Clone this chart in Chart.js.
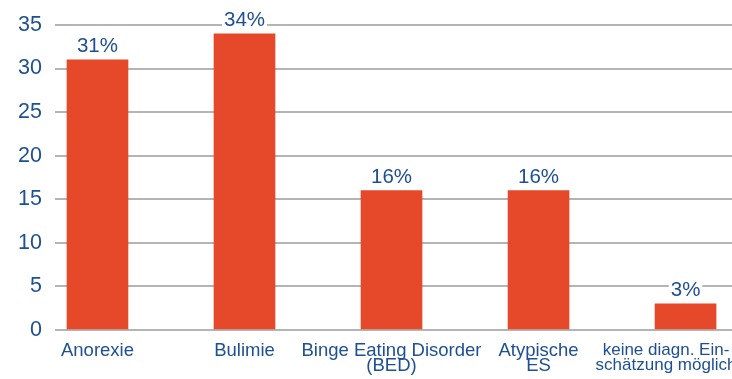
<!DOCTYPE html>
<html>
<head>
<meta charset="utf-8">
<script src="https://cdn.jsdelivr.net/npm/chart.js@4"></script>
<style>
  html, body { margin: 0; padding: 0; background: #ffffff; }
  #wrap { width: 732px; height: 379px; position: relative; }
</style>
</head>
<body>
<div id="wrap"><canvas id="chart"></canvas></div>
<script>
// Diagnosen (Anteil in %)
const categories = [
  ["Anorexie"],
  ["Bulimie"],
  ["Binge Eating Disorder", "(BED)"],
  ["Atypische", "ES"],
  ["keine diagn. Ein-", "schätzung möglich"]
];
const values = [31, 34, 16, 16, 3];
const yTicks = [0, 5, 10, 15, 20, 25, 30, 35];

const BLUE = "#1d4f93";
const BAR = "#e5492a";
const FONT = "'Liberation Sans', Arial, sans-serif";

// Prozentwerte über den Balken, mit weißem Hintergrund über den Gitterlinien
const valueLabels = {
  id: "valueLabels",
  afterDatasetsDraw(chart) {
    const ctx = chart.ctx;
    const meta = chart.getDatasetMeta(0);
    ctx.save();
    ctx.font = "20.5px " + FONT;
    ctx.textAlign = "center";
    ctx.textBaseline = "alphabetic";
    meta.data.forEach((bar, i) => {
      const txt = values[i] + "%";
      const w = ctx.measureText(txt).width;
      const baseY = bar.y - 8;
      ctx.fillStyle = "#ffffff";
      ctx.fillRect(bar.x - w / 2 - 2, baseY - 17, w + 4, 20);
      ctx.fillStyle = BLUE;
      ctx.fillText(txt, bar.x, baseY);
    });
    ctx.restore();
  }
};

const last = categories.length - 1;

new Chart(document.getElementById("chart"), {
  type: "bar",
  data: {
    datasets: [{
      data: values.map((v, i) => ({ x: i, y: v })),
      backgroundColor: BAR,
      borderWidth: 0,
      barThickness: 61
    }]
  },
  options: {
    responsive: true,
    maintainAspectRatio: false,
    animation: false,
    layout: { padding: { top: 25, right: 0, bottom: 0, left: 0 } },
    plugins: { legend: { display: false }, tooltip: { enabled: false } },
    scales: {
      x: {
        type: "linear",
        offset: false,
        min: -0.289,
        max: 4.316,
        grid: { display: false },
        border: { display: false },
        afterBuildTicks(scale) {
          // the last, long label sits a little left of its bar
          scale.ticks = categories.map((_, i) => ({ value: i === last ? i - 0.133 : i }));
        },
        afterFit(scale) {
          scale.height = 49;
          scale.paddingLeft = 0;
          scale.paddingRight = 0;
        },
        ticks: {
          autoSkip: false,
          maxRotation: 0,
          minRotation: 0,
          padding: 5,
          color: BLUE,
          font: (c) => c.index === last
            ? { family: FONT, size: 17, lineHeight: 0.88 }
            : { family: FONT, size: 18.5, lineHeight: 0.84 },
          callback: (v, i) => categories[i]
        }
      },
      y: {
        min: 0,
        max: 35,
        afterBuildTicks(scale) {
          scale.ticks = yTicks.map(v => ({ value: v }));
        },
        afterFit(scale) {
          scale.width = 55;
          scale.paddingTop = 0;
          scale.paddingBottom = 0;
        },
        grid: { color: "#b4b4b4", lineWidth: 2, drawTicks: false },
        border: { display: false },
        ticks: {
          padding: 13,
          color: BLUE,
          font: { family: FONT, size: 21.5 }
        }
      }
    }
  },
  plugins: [valueLabels]
});
</script>
</body>
</html>
